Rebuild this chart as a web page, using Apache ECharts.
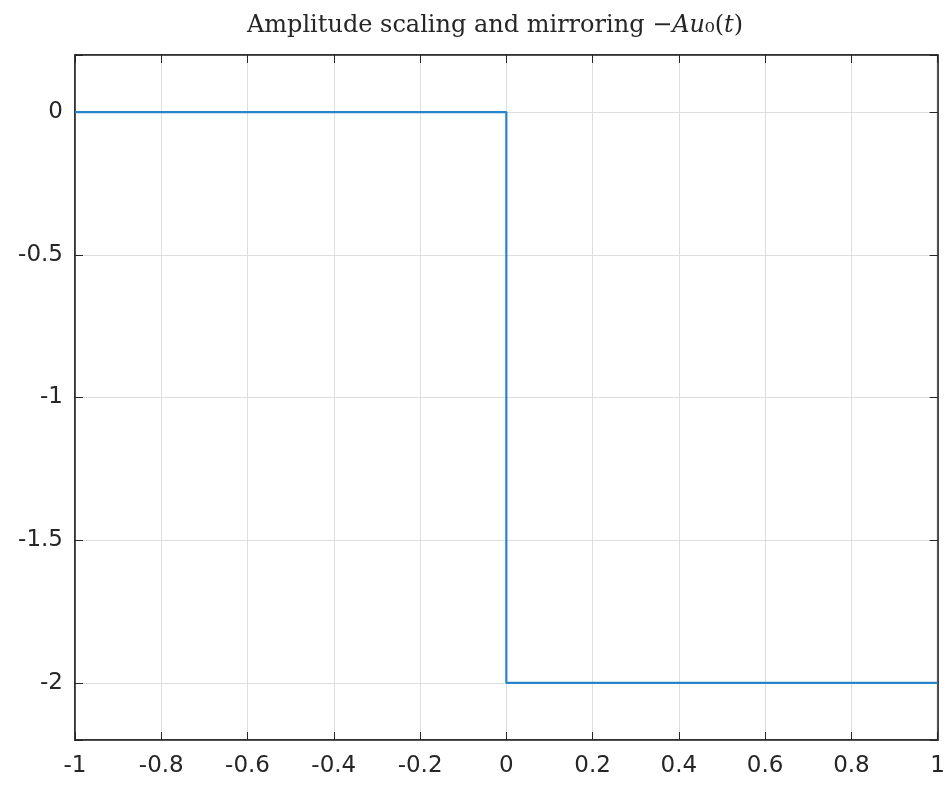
<!DOCTYPE html>
<html>
<head>
<meta charset="utf-8">
<script src="https://cdn.jsdelivr.net/npm/echarts@6/dist/echarts.min.js"></script>
<style>html,body{margin:0;padding:0;background:#fff;overflow:hidden}#c{width:948px;height:786px}</style>
</head>
<body>
<div id="c"></div>
<script>
const tValues = [-1, 0, 0, 1];
const yValues = [0, 0, -2, -2];
const xTicks = [-1, -0.8, -0.6, -0.4, -0.2, 0, 0.2, 0.4, 0.6, 0.8, 1];
const yTicks = [-2, -1.5, -1, -0.5, 0];

const chart = echarts.init(document.getElementById('c'));
const txt = '#262626';
const gridCol = '#dedede';
const fmt = v => String(Math.round(v * 10) / 10);
const yfmt = v => {
  const ok = yTicks.some(t => Math.abs(t - v) < 1e-9);
  return ok ? String(Math.round(v * 10) / 10) : '';
};
chart.setOption({
  animation: false,
  title: {
    text: 'Amplitude scaling and mirroring −{i|Au}₀({i|t})',
    left: 490, textAlign: 'center', top: 9,
    textStyle: {
      fontFamily: 'DejaVu Serif', fontWeight: 'normal', fontSize: 24, color: txt,
      rich: { i: { fontStyle: 'italic', fontFamily: 'DejaVu Serif', fontSize: 24, color: txt } }
    }
  },
  grid: { left: 75, right: 5, top: 55, bottom: 46, show: true, borderColor: txt, borderWidth: 1.5 },
  xAxis: [{
    type: 'value', min: -1, max: 1, interval: 0.2,
    axisLine: { show: true, onZero: false, lineStyle: { color: txt, width: 1.5 } },
    axisTick: { show: true, inside: true, length: 8, lineStyle: { color: txt } },
    axisLabel: { color: txt, fontSize: 23, fontFamily: 'DejaVu Sans', margin: 15, formatter: fmt },
    splitLine: { show: true, lineStyle: { color: gridCol, width: 1 } }
  }, {
    type: 'value', min: -1, max: 1, interval: 0.2, position: 'top',
    axisLine: { show: true, onZero: false, lineStyle: { color: txt, width: 1.5 } },
    axisTick: { show: true, inside: true, length: 8, lineStyle: { color: txt } },
    axisLabel: { show: false }, splitLine: { show: false }
  }],
  yAxis: [{
    type: 'value', min: -2.2, max: 0.2, minInterval: 0.5, maxInterval: 0.5,
    axisLine: { show: true, onZero: false, lineStyle: { color: txt, width: 1.5 } },
    axisTick: { show: true, inside: true, length: 8, lineStyle: { color: txt } },
    axisLabel: { color: txt, fontSize: 23, fontFamily: 'DejaVu Sans', margin: 12, formatter: yfmt },
    splitLine: { show: true, lineStyle: { color: gridCol, width: 1 } }
  }, {
    type: 'value', min: -2.2, max: 0.2, minInterval: 0.5, maxInterval: 0.5, position: 'right',
    axisLine: { show: true, onZero: false, lineStyle: { color: txt, width: 1.5 } },
    axisTick: { show: true, inside: true, length: 8, lineStyle: { color: txt } },
    axisLabel: { show: false }, splitLine: { show: false }
  }],
  series: [{
    type: 'line', xAxisIndex: 0, yAxisIndex: 0,
    data: tValues.map((t, i) => [t, yValues[i]]),
    showSymbol: false, symbol: 'none',
    lineStyle: { color: '#2a84c9', width: 2.2 }, z: 5
  }]
});
</script>
</body>
</html>
